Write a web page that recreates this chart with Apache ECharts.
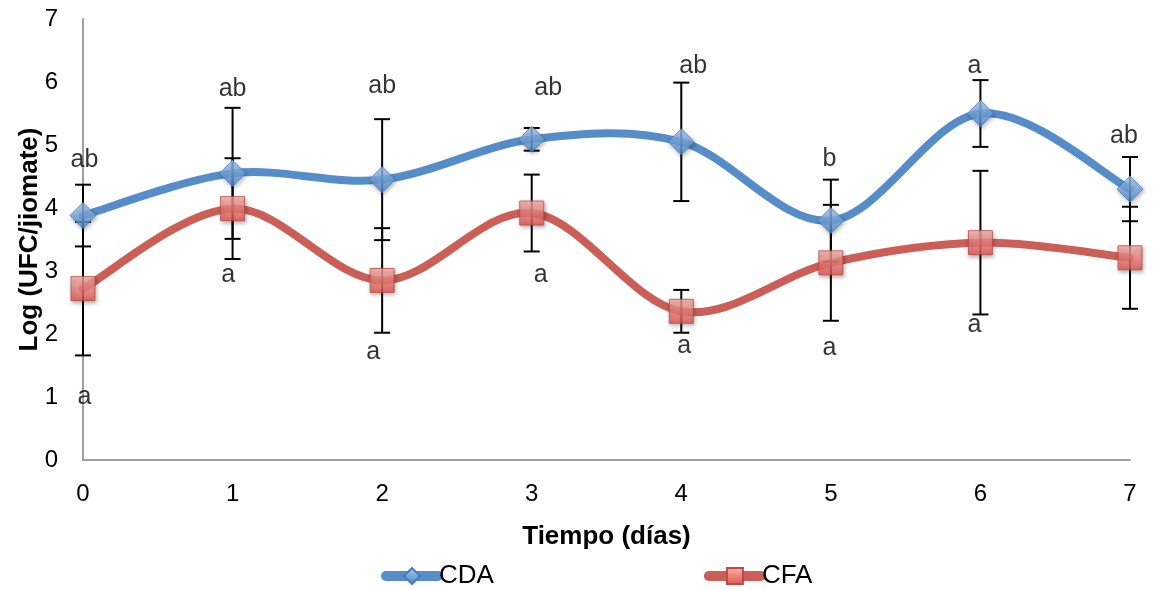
<!DOCTYPE html>
<html>
<head>
<meta charset="utf-8">
<title>Log (UFC/jiomate) – CDA y CFA</title>
<script src="https://cdn.jsdelivr.net/npm/echarts@6/dist/echarts.min.js"></script>
<style>
  html, body { margin: 0; padding: 0; background: #ffffff; }
  #chart { width: 1166px; height: 590px; }
</style>
</head>
<body>
<div id="chart"></div>
<script>
// Días de muestreo
const days = [0, 1, 2, 3, 4, 5, 6, 7];

// Medias de Log (UFC/jiomate)
const cdaMean = [3.88, 4.55, 4.45, 5.09, 5.05, 3.80, 5.50, 4.30];
const cfaMean = [2.72, 3.99, 2.85, 3.92, 2.36, 3.13, 3.45, 3.21];

// Desviación (barras de error, +/-)
const cdaErr = [0.49, 1.04, 0.96, 0.18, 0.94, 0.65, 0.53, 0.51];
const cfaErr = [1.06, 0.80, 0.83, 0.61, 0.34, 0.92, 1.14, 0.81];

// Letras de significancia y su ubicación (día, valor)
const cdaLetters = ['ab', 'ab', 'ab', 'ab', 'ab', 'b', 'a', 'ab'];
const cdaLetterAt = [[0.01, 4.76], [1.0, 5.89], [2.0, 5.93], [3.11, 5.90], [4.08, 6.25], [4.99, 4.78], [5.96, 6.25], [6.96, 5.14]];
const cfaLetters = ['a', 'a', 'a', 'a', 'a', 'a', 'a', 'a'];
const cfaLetterAt = [[0.01, 1.0], [0.97, 2.93], [1.94, 1.71], [3.06, 2.94], [4.02, 1.80], [4.99, 1.77], [5.96, 2.14], [7.15, 2.15]];

// Ejes
const xTicks = { min: 0, max: 7, interval: 1 };
const yTicks = { min: 0, max: 7, interval: 1 };

const BLUE = '#568DC8';
const RED = '#CC5E58';
const FONT = '"Liberation Sans", Arial, sans-serif';

const pairs = (xs, ys) => xs.map((x, i) => [x, ys[i]]);
const bars = (xs, m, e) => xs.map((x, i) => [x, m[i] - e[i], m[i] + e[i]]);
const letters = (pos, txt) => pos.map((p, i) => [p[0], p[1], txt[i]]);

const blueFill = new echarts.graphic.LinearGradient(0, 0, 0, 1, [
  { offset: 0, color: '#A9CDF5' },
  { offset: 1, color: '#4A86CC' }
]);
const redFill = new echarts.graphic.LinearGradient(0, 0, 0, 1, [
  { offset: 0, color: '#FBB3AE' },
  { offset: 1, color: '#E2524C' }
]);

// Curva suavizada (Catmull-Rom -> Bézier) entre el punto i y el i+1
function smoothSegment(xs, ys, color) {
  return function (params, api) {
    const i = params.dataIndex;
    const n = xs.length;
    if (i >= n - 1) return null;
    const pt = k => api.coord([xs[Math.max(0, Math.min(n - 1, k))], ys[Math.max(0, Math.min(n - 1, k))]]);
    const p0 = pt(i - 1), p1 = pt(i), p2 = pt(i + 1), p3 = pt(i + 2);
    const t = 1 / 6;
    return {
      type: 'bezierCurve',
      shape: {
        x1: p1[0], y1: p1[1],
        x2: p2[0], y2: p2[1],
        cpx1: p1[0] + (p2[0] - p0[0]) * t, cpy1: p1[1] + (p2[1] - p0[1]) * t,
        cpx2: p2[0] - (p3[0] - p1[0]) * t, cpy2: p2[1] - (p3[1] - p1[1]) * t
      },
      style: { stroke: color, lineWidth: 8, fill: null, lineCap: 'round' }
    };
  };
}

// Barra de error vertical con remates horizontales
function renderErrorBar(params, api) {
  const x = api.value(0);
  const lo = api.coord([x, api.value(1)]);
  const hi = api.coord([x, api.value(2)]);
  const half = 8;
  const style = { stroke: '#000', lineWidth: 2 };
  return {
    type: 'group',
    children: [
      { type: 'line', shape: { x1: lo[0], y1: lo[1], x2: hi[0], y2: hi[1] }, style },
      { type: 'line', shape: { x1: lo[0] - half, y1: lo[1], x2: lo[0] + half, y2: lo[1] }, style },
      { type: 'line', shape: { x1: hi[0] - half, y1: hi[1], x2: hi[0] + half, y2: hi[1] }, style }
    ]
  };
}

function curveSeries(name, xs, ys, color) {
  return {
    name: name,
    type: 'custom',
    renderItem: smoothSegment(xs, ys, color),
    data: pairs(xs, ys),
    z: 2,
    silent: true
  };
}

function markerSeries(name, data, symbol, size, fill, border) {
  return {
    name: name,
    type: 'scatter',
    data: data,
    symbol: symbol,
    symbolSize: size,
    z: 5,
    silent: true,
    itemStyle: {
      color: fill,
      borderColor: border,
      borderWidth: 1,
      shadowBlur: 4,
      shadowOffsetX: 1,
      shadowOffsetY: 2,
      shadowColor: 'rgba(0,0,0,0.35)'
    }
  };
}

function letterSeries(name, data) {
  return {
    name: name,
    type: 'scatter',
    data: data,
    symbolSize: 1,
    itemStyle: { color: 'rgba(0,0,0,0)' },
    z: 6,
    silent: true,
    label: {
      show: true,
      position: 'inside',
      formatter: p => p.value[2],
      color: '#000',
      textBorderWidth: 0,
      fontFamily: FONT,
      fontSize: 25
    }
  };
}

const chart = echarts.init(document.getElementById('chart'), null, { renderer: 'canvas' });

chart.setOption({
  backgroundColor: '#ffffff',
  animation: false,
  grid: { left: 83, right: 36, top: 19, bottom: 130, containLabel: false },
  xAxis: {
    type: 'value',
    min: xTicks.min, max: xTicks.max, interval: xTicks.interval,
    name: 'Tiempo (días)',
    nameLocation: 'middle',
    nameGap: 64,
    nameMoveOverlap: false,
    nameTextStyle: { fontFamily: FONT, fontSize: 26, fontWeight: 'bold', color: '#000' },
    axisLine: { show: true, lineStyle: { color: '#A0A0A0', width: 2 } },
    axisTick: { show: false },
    splitLine: { show: false },
    axisLabel: { margin: 22, fontFamily: FONT, fontSize: 24, color: '#000' }
  },
  yAxis: {
    type: 'value',
    min: yTicks.min, max: yTicks.max, interval: yTicks.interval,
    name: 'Log (UFC/jiomate)',
    nameLocation: 'middle',
    nameGap: 40,
    nameMoveOverlap: false,
    nameTextStyle: { fontFamily: FONT, fontSize: 26, fontWeight: 'bold', color: '#000' },
    axisLine: { show: true, lineStyle: { color: '#A0A0A0', width: 2 } },
    axisTick: { show: false },
    splitLine: { show: false },
    axisLabel: { margin: 25, fontFamily: FONT, fontSize: 24, color: '#000' }
  },
  legend: {
    data: ['CDA', 'CFA'],
    left: 376,
    top: 558,
    itemWidth: 52,
    itemHeight: 20,
    itemGap: 210,
    lineStyle: { width: 10, cap: 'round' },
    textStyle: { fontFamily: FONT, fontSize: 26, color: '#000', padding: [0, 0, 0, -4] }
  },
  series: [
    // Entradas de leyenda (línea con marcador)
    {
      name: 'CDA', type: 'line', data: [], symbol: 'diamond',
      lineStyle: { color: BLUE, width: 8 },
      itemStyle: { color: blueFill, borderColor: '#4A7EBB', borderWidth: 1 }
    },
    {
      name: 'CFA', type: 'line', data: [], symbol: 'rect',
      lineStyle: { color: RED, width: 8 },
      itemStyle: { color: redFill, borderColor: '#B94A46', borderWidth: 1 }
    },
    curveSeries('curve-cda', days, cdaMean, BLUE),
    curveSeries('curve-cfa', days, cfaMean, RED),
    {
      name: 'err-cda',
      type: 'custom',
      renderItem: renderErrorBar,
      data: bars(days, cdaMean, cdaErr),
      z: 3,
      silent: true
    },
    {
      name: 'err-cfa',
      type: 'custom',
      renderItem: renderErrorBar,
      data: bars(days, cfaMean, cfaErr),
      z: 3,
      silent: true
    },
    markerSeries('mk-cda', pairs(days, cdaMean), 'diamond', 26, blueFill, '#4A7EBB'),
    markerSeries('mk-cfa', pairs(days, cfaMean), 'rect', 24, redFill, '#B94A46'),
    letterSeries('lt-cda', letters(cdaLetterAt, cdaLetters)),
    letterSeries('lt-cfa', letters(cfaLetterAt, cfaLetters))
  ]
});
</script>
</body>
</html>
